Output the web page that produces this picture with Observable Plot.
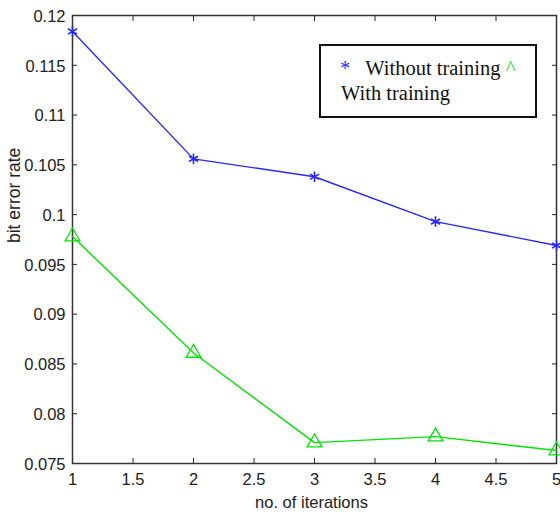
<!DOCTYPE html>
<html>
<head>
<meta charset="utf-8">
<script src="https://cdn.jsdelivr.net/npm/d3@7"></script>
<script src="https://cdn.jsdelivr.net/npm/@observablehq/plot@0.6"></script>
<style>
  html, body { margin: 0; padding: 0; background: #fff; }
  #wrap { position: relative; width: 560px; height: 512px; }
  #legend {
    position: absolute; left: 319px; top: 44px; width: 214px; height: 70px;
    border: 2px solid #111; background: #fff;
    font-family: "Liberation Serif", "Times New Roman", serif; font-size: 20.5px; line-height: 25px;
    color: #111;
  }
  #legend .l1 { position: absolute; left: 19px; top: 10px; white-space: nowrap; }
  #legend .l2 { position: absolute; left: 20px; top: 35px; white-space: nowrap; }
</style>
</head>
<body>
<div id="wrap"></div>
<script>
const iterations = [1, 2, 3, 4, 5];
const withoutTraining = [0.1184, 0.1056, 0.1038, 0.0993, 0.0969];
const withTraining = [0.0978, 0.0861, 0.0771, 0.0777, 0.0763];
const xTicks = [1, 1.5, 2, 2.5, 3, 3.5, 4, 4.5, 5];
const yTicks = [0.075, 0.08, 0.085, 0.09, 0.095, 0.1, 0.105, 0.11, 0.115, 0.12];
const seriesNames = ["Without training", "With training"];
const xLabel = "no. of iterations";
const yLabel = "bit error rate";
const colors = ["#2828ff", "#00e600"];

const rowsA = iterations.map((x, i) => ({x, y: withoutTraining[i]}));
const rowsB = iterations.map((x, i) => ({x, y: withTraining[i]}));

const fmt = d => String(+d.toFixed(3));
const sans = "'Liberation Sans', Arial, sans-serif";

const chart = Plot.plot({
  width: 560,
  height: 512,
  marginLeft: 72,
  marginTop: 15,
  marginRight: 4,
  marginBottom: 49,
  style: {fontFamily: sans, fontSize: "16.5px", color: "#222", background: "#fff"},
  x: {domain: [1, 5]},
  y: {domain: [0.075, 0.12]},
  marks: [
    Plot.axisX({anchor: "bottom", ticks: xTicks, tickSize: -5, tickFormat: () => "", label: null}),
    Plot.axisX({anchor: "top", ticks: xTicks, tickSize: -5, tickFormat: () => "", label: null}),
    Plot.axisY({anchor: "left", ticks: yTicks, tickSize: -5, tickFormat: () => "", label: null}),
    Plot.axisY({anchor: "right", ticks: yTicks, tickSize: -5, tickFormat: () => "", label: null}),
    Plot.frame({stroke: "#333", strokeWidth: 1.5}),
    Plot.text(xTicks, {x: d => d, frameAnchor: "bottom", lineAnchor: "top", dy: 10, text: fmt, fontSize: 16.5, fill: "#222", ariaLabel: "xticklabels"}),
    Plot.text(yTicks, {y: d => d, frameAnchor: "left", textAnchor: "end", dx: -7, dy: 1, text: fmt, fontSize: 16.5, fill: "#222", ariaLabel: "yticklabels"}),
    Plot.line(rowsA, {x: "x", y: "y", stroke: colors[0], strokeWidth: 1.4}),
    Plot.dot(rowsA, {x: "x", y: "y", symbol: "asterisk", r: 5, stroke: colors[0], strokeWidth: 1.6}),
    Plot.line(rowsB, {x: "x", y: "y", stroke: colors[1], strokeWidth: 1.4}),
    Plot.dot(rowsB, {x: "x", y: "y", symbol: "triangle", r: 5.5, stroke: colors[1], fill: "none", strokeWidth: 1.3}),
    Plot.text([yLabel], {frameAnchor: "left", dx: -58.5, dy: 3.5, rotate: -90, fontSize: 17.5, fill: "#222"}),
    Plot.text([xLabel], {frameAnchor: "bottom", lineAnchor: "bottom", dx: -3, dy: 44, fontSize: 16.5, fill: "#222", ariaLabel: "xlabel"})
  ]
});

// condense the axis texts horizontally, like the narrow face of the original
const condense = {xticklabels: 0.86, yticklabels: 0.85, xlabel: 0.84};
for (const [name, k] of Object.entries(condense)) {
  chart.querySelectorAll(`g[aria-label="${name}"] text`).forEach(t => {
    const tr = t.getAttribute("transform") || "";
    t.setAttribute("transform", `${tr} scale(${k},1)`);
  });
}

const wrap = document.getElementById("wrap");
wrap.appendChild(chart);
const legend = document.createElement("div");
legend.id = "legend";
legend.innerHTML = `<div class="l1"><span style="color:${colors[0]}">*</span>&nbsp;&nbsp; ${seriesNames[0]} <span style="color:${colors[1]}">^</span></div><div class="l2">${seriesNames[1]}</div>`;
wrap.appendChild(legend);
</script>
</body>
</html>
